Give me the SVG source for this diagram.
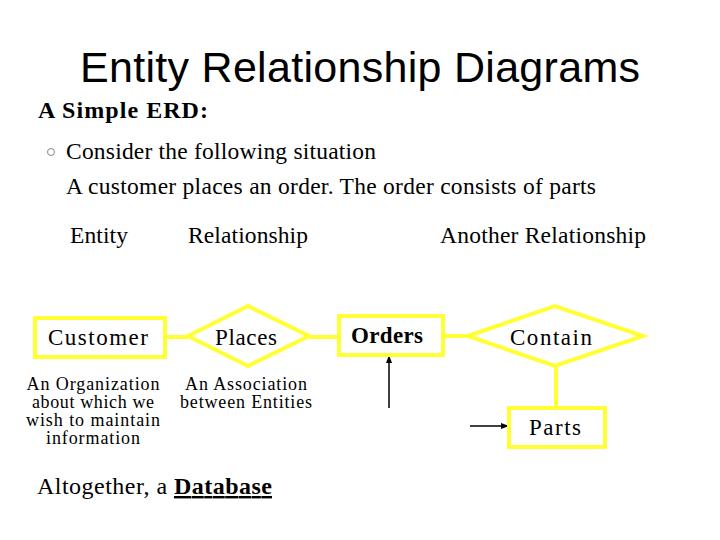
<svg xmlns="http://www.w3.org/2000/svg" width="720" height="540" viewBox="0 0 720 540">
<style>
.s{font-family:"Liberation Serif",serif;fill:#000}
.box{fill:#fff;stroke:#ffff33;stroke-width:4}
.ln{stroke:#ffff33;stroke-width:4;fill:none}
.ar{stroke:#000;stroke-width:1.5;fill:none;marker-end:url(#a)}
.nl{font-family:"Liberation Serif",serif;font-size:23px;text-anchor:middle}
.d{font-family:"Liberation Serif",serif;font-size:18px;text-anchor:middle}
</style>
<defs><marker id="a" markerWidth="8" markerHeight="8" refX="7" refY="4" orient="auto" markerUnits="userSpaceOnUse"><path d="M0,1 L8,4 L0,7 z" fill="#000"/></marker></defs>
<rect width="720" height="540" fill="#fff"/>
<text x="360" y="82" font-family="Liberation Sans,sans-serif" font-size="43" text-anchor="middle" textLength="560">Entity Relationship Diagrams</text>
<text class="s" x="38" y="118" font-size="24" font-weight="bold" textLength="170">A Simple ERD:</text>
<circle cx="51" cy="152" r="3.5" fill="#fff" stroke="#888" stroke-width="1"/>
<text class="s" x="66" y="159" font-size="23.5" textLength="310">Consider the following situation</text>
<text class="s" x="66" y="194" font-size="23.5" textLength="530">A customer places an order. The order consists of parts</text>
<text class="s" x="70" y="243" font-size="23.5" textLength="58">Entity</text>
<text class="s" x="188" y="243" font-size="23.5" textLength="120">Relationship</text>
<text class="s" x="440" y="243" font-size="23.5" textLength="206">Another Relationship</text>
<g id="connectors">
<line class="ln" x1="165" y1="337" x2="188" y2="337"/>
<line class="ln" x1="309" y1="337" x2="339" y2="337"/>
<line class="ln" x1="443" y1="336" x2="468" y2="336"/>
<line class="ln" x1="556" y1="365" x2="556" y2="408"/>
<line class="ar" x1="389" y1="408" x2="389" y2="356"/>
<line class="ar" x1="470" y1="426" x2="508" y2="426"/>
</g>
<g id="customer"><rect class="box" x="35" y="318" width="130" height="39"/><text class="nl" x="98" y="345" textLength="100">Customer</text></g>
<g id="places"><polygon class="box" points="188,336 248,306 309,336 248,366"/><text class="nl" x="246" y="345" textLength="62">Places</text></g>
<g id="orders"><rect class="box" x="339" y="316" width="104" height="39"/><text class="nl" x="387" y="343" font-weight="bold" textLength="72">Orders</text></g>
<g id="contain"><polygon class="box" points="468,336 555,306 643,336 555,366"/><text class="nl" x="551" y="345" textLength="82">Contain</text></g>
<g id="parts"><rect class="box" x="509" y="408" width="96" height="39"/><text class="nl" x="555" y="435" textLength="52">Parts</text></g>
<text class="d" x="93" y="390" textLength="133">An Organization</text>
<text class="d" x="93" y="408" textLength="122">about which we</text>
<text class="d" x="93" y="426" textLength="134">wish to maintain</text>
<text class="d" x="93" y="444" textLength="94">information</text>
<text class="d" x="246" y="390" textLength="122">An Association</text>
<text class="d" x="246" y="408" textLength="132">between Entities</text>
<text class="s" x="37" y="494" font-size="24" textLength="235">Altogether, a <tspan font-weight="bold" text-decoration="underline">Database</tspan></text>
</svg>
